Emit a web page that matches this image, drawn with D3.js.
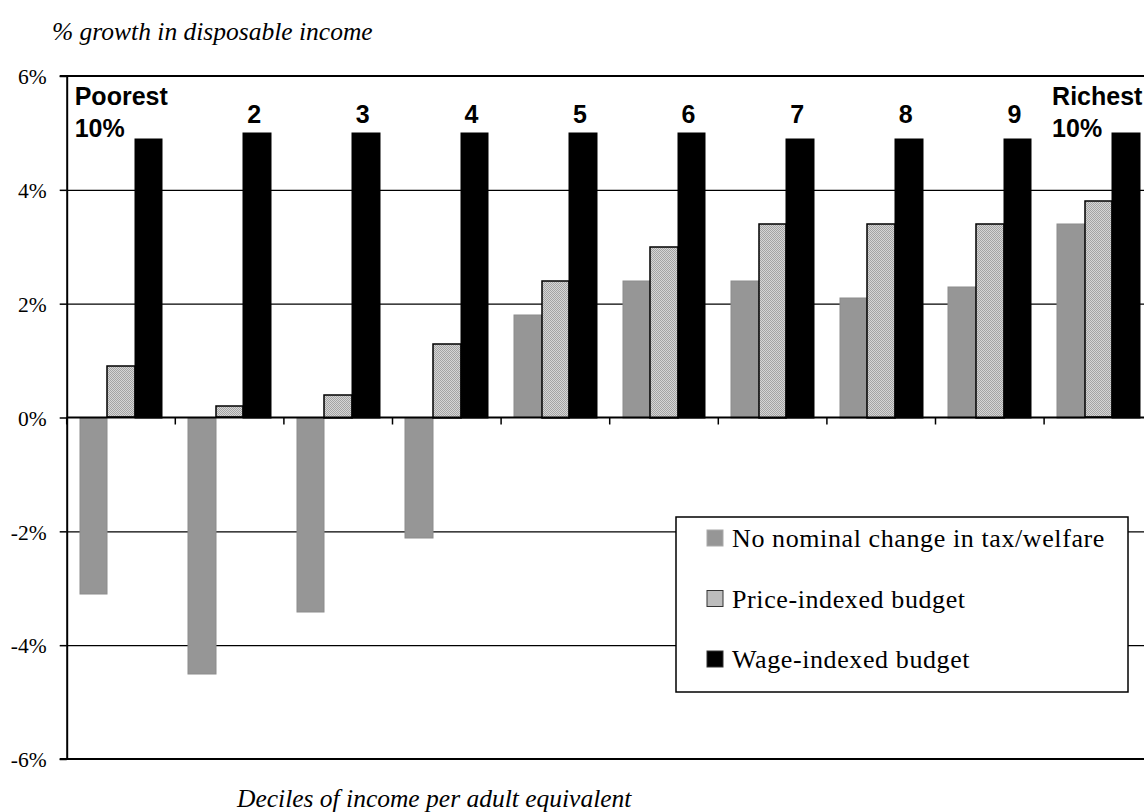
<!DOCTYPE html>
<html>
<head>
<meta charset="utf-8">
<script src="https://cdn.jsdelivr.net/npm/d3@7"></script>
<style>
  body { margin: 0; background: #fff; }
</style>
</head>
<body>
<div class="plots"></div>
<script>
var deciles = ["1","2","3","4","5","6","7","8","9","10"];
var labelLine1 = ["Poorest","2","3","4","5","6","7","8","9","Richest"];
var labelLine2 = ["10%","","","","","","","","","10%"];
var seriesKeys = ["nominal","price","wage"];
var seriesNames = ["No nominal change in tax/welfare","Price-indexed budget","Wage-indexed budget"];
var nominalVals = [-3.1,-4.5,-3.4,-2.1,1.8,2.4,2.4,2.1,2.3,3.4];
var priceVals = [0.9,0.2,0.4,1.3,2.4,3.0,3.4,3.4,3.4,3.8];
var wageVals = [4.9,5.0,5.0,5.0,5.0,5.0,4.9,4.9,4.9,5.0];
var yTicks = [-6,-4,-2,0,2,4,6];

var serif = "'Liberation Serif', 'Times New Roman', serif";
var sans = "'Liberation Sans', Arial, sans-serif";

var width = 1144, height = 812;
var margin = {top: 76, left: 66.7, bottom: 53};
var plotW = 1086; // plot runs past the right edge of the picture

var svg = d3.select(".plots").append("svg")
    .attr("width", width)
    .attr("height", height);

// fine dotted fill for the price-indexed bars
var pat = svg.append("defs").append("pattern")
    .attr("id", "dots")
    .attr("patternUnits", "userSpaceOnUse")
    .attr("width", 2).attr("height", 2);
pat.append("rect").attr("width", 2).attr("height", 2).attr("fill", "#d6d6d6");
pat.append("rect").attr("x", 0).attr("y", 0).attr("width", 1).attr("height", 1).attr("fill", "#a4a4a4").attr("shape-rendering", "crispEdges");
pat.append("rect").attr("x", 1).attr("y", 1).attr("width", 1).attr("height", 1).attr("fill", "#a4a4a4").attr("shape-rendering", "crispEdges");

var y = d3.scaleLinear()
    .domain([-6, 6])
    .range([height - margin.bottom, margin.top]);

var x0 = d3.scaleBand()
    .domain(deciles)
    .range([margin.left, margin.left + plotW])
    .padding(0);

var x1 = d3.scaleBand()
    .domain(seriesKeys)
    .range([0, x0.bandwidth()])
    .paddingInner(0)
    .paddingOuter(0.47);

var fills = {nominal: "#969696", price: "url(#dots)", wage: "#000"};
var strokes = {nominal: "#8c8c8c", price: "#000", wage: "#000"};

var rows = deciles.map(function(d, i) {
  return {decile: d, nominal: nominalVals[i], price: priceVals[i], wage: wageVals[i]};
});

// gridlines
svg.append("g")
    .attr("transform", "translate(" + margin.left + ",0)")
    .call(d3.axisLeft(y).tickValues([-4,-2,2,4]).tickSize(-plotW).tickFormat(""))
    .call(function(g) { g.select(".domain").remove(); })
    .selectAll("line")
    .attr("stroke", "#000")
    .attr("stroke-width", 1.3);

// bars (snapped to whole pixels so the dot pattern stays even)
var groups = svg.append("g").selectAll("g")
    .data(rows)
    .join("g");

groups.selectAll("rect")
    .data(function(d) { return seriesKeys.map(function(k) { return {decile: d.decile, key: k, value: d[k]}; }); })
    .join("rect")
    .attr("x", function(d) { return Math.round(x0(d.decile) + x1(d.key)); })
    .attr("width", function(d) { return Math.round(x0(d.decile) + x1(d.key) + x1.bandwidth()) - Math.round(x0(d.decile) + x1(d.key)); })
    .attr("y", function(d) { return Math.round(y(Math.max(0, d.value))); })
    .attr("height", function(d) { return Math.round(Math.abs(y(d.value) - y(0))); })
    .attr("fill", function(d) { return fills[d.key]; })
    .attr("stroke", function(d) { return strokes[d.key]; })
    .attr("stroke-width", function(d) { return d.key == "price" ? 1.5 : 1; });

// zero line + category ticks
svg.append("line")
    .attr("x1", margin.left).attr("x2", margin.left + plotW)
    .attr("y1", y(0)).attr("y2", y(0))
    .attr("stroke", "#000").attr("stroke-width", 2);

svg.append("g").selectAll("line")
    .data(deciles)
    .join("line")
    .attr("x1", function(d) { return x0(d); })
    .attr("x2", function(d) { return x0(d); })
    .attr("y1", y(0)).attr("y2", y(0) + 7)
    .attr("stroke", "#000").attr("stroke-width", 1.5);

// top and bottom frame
svg.append("line")
    .attr("x1", margin.left - 7).attr("x2", margin.left + plotW)
    .attr("y1", y(6)).attr("y2", y(6))
    .attr("stroke", "#000").attr("stroke-width", 2);
svg.append("line")
    .attr("x1", margin.left - 7).attr("x2", margin.left + plotW)
    .attr("y1", y(-6)).attr("y2", y(-6))
    .attr("stroke", "#000").attr("stroke-width", 2);

// y axis
var yAxis = svg.append("g")
    .attr("transform", "translate(" + margin.left + ",0)")
    .call(d3.axisLeft(y).tickValues(yTicks).tickSize(7).tickSizeOuter(0)
      .tickFormat(function(d) { return d + "%"; }));
yAxis.attr("font-family", null).attr("font-size", null);
yAxis.select(".domain").attr("stroke-width", 2);
yAxis.selectAll(".tick line").attr("stroke-width", 1.5);
yAxis.selectAll(".tick text")
    .attr("x", -20)
    .attr("dy", "0.36em")
    .attr("fill", "#000")
    .style("font-family", serif)
    .style("font-size", "21.5px");

// decile labels
var lab = svg.append("g").selectAll("text")
    .data(deciles)
    .join("text")
    .style("font-family", sans)
    .style("font-weight", "bold")
    .style("font-size", "25px")
    .attr("fill", "#000");
lab.each(function(d, i) {
  var t = d3.select(this);
  if (labelLine2[i] != "") {
    t.attr("x", x0(d) + 8).attr("y", 105).attr("text-anchor", "start");
    t.append("tspan").text(labelLine1[i]);
    t.append("tspan").attr("x", x0(d) + 8).attr("dy", 32).text(labelLine2[i]);
  } else {
    t.attr("x", x0(d) + x1("wage") + x1.bandwidth() / 2 - 3)
     .attr("y", 123)
     .attr("text-anchor", "middle")
     .text(labelLine1[i]);
  }
});

// titles
svg.append("text")
    .style("font-family", serif).style("font-style", "italic").style("font-size", "25.5px")
    .attr("x", 52).attr("y", 40)
    .text("% growth in disposable income");

svg.append("text")
    .style("font-family", serif).style("font-style", "italic").style("font-size", "25.5px")
    .attr("x", 237).attr("y", 807)
    .text("Deciles of income per adult equivalent");

// legend
var legend = svg.append("g").attr("transform", "translate(676,517)");
legend.append("rect")
    .attr("width", 452).attr("height", 175)
    .attr("fill", "#fff").attr("stroke", "#000").attr("stroke-width", 1.5);

var items = legend.selectAll("g.item")
    .data(seriesKeys)
    .join("g")
    .attr("class", "item")
    .attr("transform", function(d, i) { return "translate(0," + (30 + i * 60.5) + ")"; });
items.append("rect")
    .attr("x", 31).attr("y", -17)
    .attr("width", 16).attr("height", 16)
    .attr("fill", function(d) { return fills[d]; })
    .attr("stroke", function(d) { return d == "nominal" ? "#aaa" : "#333"; })
    .attr("stroke-width", 1);
items.append("text")
    .style("font-family", serif)
    .style("font-size", "26px")
    .style("letter-spacing", "0.6px")
    .attr("x", 56).attr("y", 0)
    .text(function(d, i) { return seriesNames[i]; });
</script>
</body>
</html>
